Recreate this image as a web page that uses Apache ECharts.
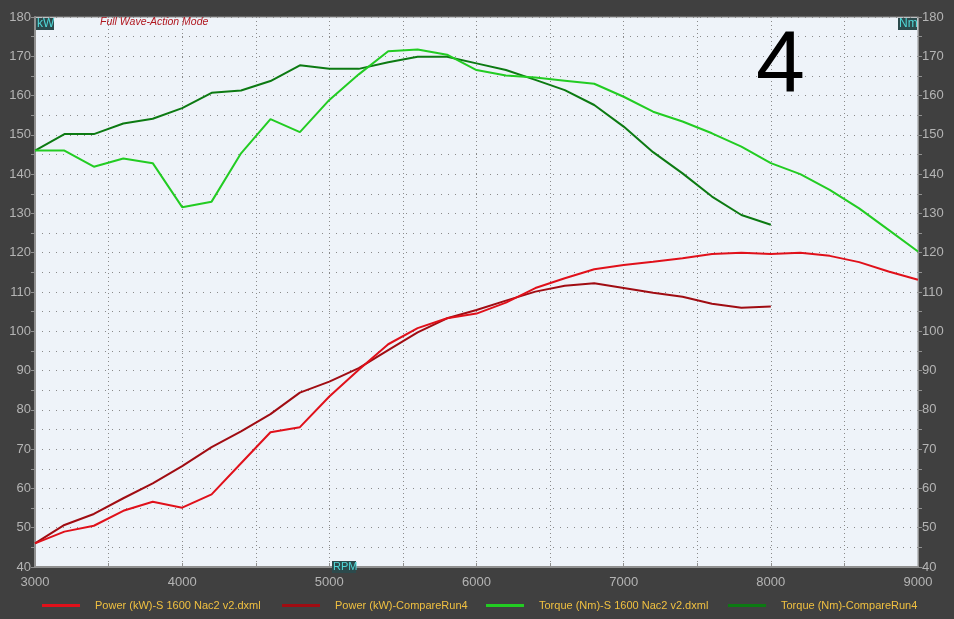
<!DOCTYPE html>
<html><head><meta charset="utf-8">
<script src="https://cdn.jsdelivr.net/npm/echarts@6/dist/echarts.min.js"></script>
<style>html,body{margin:0;padding:0;background:#404040;}#c{width:954px;height:619px;}</style>
</head><body><div id="c"></div>
<script>
const rpm = [3000,3200,3400,3600,3800,4000,4200,4400,4600,4800,5000,5200,5400,5600,5800,6000,6200,6400,6600,6800,7000,7200,7400,7600,7800,8000,8200,8400,8600,8800,9000];
const powerS1600 = [46,49,50.5,54.3,56.6,55.1,58.5,66.4,74.3,75.6,83.4,90.2,96.7,100.8,103.3,104.5,107.3,111,113.5,115.8,116.9,117.7,118.6,119.7,120,119.7,120,119.2,117.6,115.2,113.1];
const powerCompare = [46,50.7,53.5,57.5,61.3,65.7,70.5,74.5,78.9,84.4,87.2,90.6,95.2,99.7,103.3,105.4,107.8,110.1,111.6,112.2,111,109.8,108.8,107,106,106.3];
const torqueS1600 = [146,146,141.9,144,142.8,131.6,133,145.3,154,150.7,158.9,165.4,171.3,171.7,170.4,166.5,165.1,164.6,163.8,163,159.7,155.9,153.4,150.4,147,142.8,140,136,131.3,125.8,120.3];
const torqueCompare = [146,150.2,150.2,152.9,154.1,156.8,160.7,161.3,163.7,167.7,166.8,166.8,168.5,169.9,169.9,168.2,166.5,164,161.4,157.6,152.1,145.6,140.2,134.3,129.6,127.1];
const seriesNames = ['Power (kW)-S 1600 Nac2 v2.dxml','Power (kW)-CompareRun4','Torque (Nm)-S 1600 Nac2 v2.dxml','Torque (Nm)-CompareRun4'];
const seriesColors = ['#e0101a','#a00c12','#22cc22','#0c7a12'];
const seriesData = [powerS1600, powerCompare, torqueS1600, torqueCompare];
const legendLeft = [42, 282, 486, 728];

const pair = arr => arr.map((v,i)=>[rpm[i], v]);
const chart = echarts.init(document.getElementById('c'));
const FONT = 'Liberation Sans';
const labFmt = v => (v % 10 === 0 ? String(v) : '');
const xFmt = v => (v % 1000 === 0 ? String(v) : '');
const yAxisCommon = {
  type:'value', min:40, max:180, interval:5,
  axisLine:{show:true, lineStyle:{color:'#909090', width:2}},
  axisTick:{show:true, length:4, lineStyle:{color:'#909090'}},
  axisLabel:{color:'#b4b4b4', fontFamily:FONT, fontSize:13, formatter:labFmt, margin:4},
};
chart.setOption({
  backgroundColor:'#404040',
  animation:false,
  grid:{left:35, right:36, top:17, bottom:52, show:true, backgroundColor:'#eef3f9', borderColor:'#909090', borderWidth:1},
  xAxis:{
    type:'value', min:3000, max:9000, interval:500,
    axisLine:{show:true, lineStyle:{color:'#909090', width:2}},
    axisTick:{show:true, length:4, inside:true, lineStyle:{color:'#909090'}},
    axisLabel:{color:'#b4b4b4', fontFamily:FONT, fontSize:13, formatter:xFmt, margin:9},
    splitLine:{show:true, lineStyle:{color:'#8a8a8a', type:[1,3], width:1}}
  },
  yAxis:[
    Object.assign({}, yAxisCommon, {position:'left', splitLine:{show:true, lineStyle:{color:'#8a8a8a', type:[1,6], width:1}}}),
    Object.assign({}, yAxisCommon, {position:'right', axisLine:{show:true, lineStyle:{color:'#909090', width:1}}, splitLine:{show:false}})
  ],
  legend: seriesNames.map((n,i)=>({
    left:legendLeft[i], top:600, itemWidth:38, itemHeight:3, icon:'rect', padding:0,
    textStyle:{color:'#f0c040', fontFamily:FONT, fontSize:11, padding:[0,0,0,10]},
    data:[n]
  })),
  series: seriesNames.map((n,i)=>({
    name:n, type:'line', yAxisIndex: i<2?0:1, showSymbol:false, symbol:'none',
    data:pair(seriesData[i]),
    lineStyle:{color:seriesColors[i], width:2}, itemStyle:{color:seriesColors[i]},
    z: 4-i
  })),
  graphic:[
    {type:'text', z:100, left:100, top:17, style:{text:'Full Wave-Action Mode', fill:'#b01820', font:'italic 10.5px "Liberation Sans"'}},
    {type:'text', z:100, left:756, top:24, style:{text:'4', fill:'#000', font:'88px "Liberation Sans"'}},
    {type:'rect', z:100, left:36, top:18, shape:{width:18, height:12}, style:{fill:'#2c4a4c'}},
    {type:'text', z:101, left:37, top:18, style:{text:'kW', fill:'#50d8d8', font:'12px "Liberation Sans"'}},
    {type:'rect', z:100, left:898, top:18, shape:{width:19, height:12}, style:{fill:'#2c4a4c'}},
    {type:'text', z:101, left:899, top:18, style:{text:'Nm', fill:'#50d8d8', font:'12px "Liberation Sans"'}},
    {type:'rect', z:100, left:332, top:561, shape:{width:24, height:12}, style:{fill:'#2c4a4c'}},
    {type:'text', z:101, left:333, top:561, style:{text:'RPM', fill:'#50d8d8', font:'11px "Liberation Sans"'}}
  ]
});
</script></body></html>
